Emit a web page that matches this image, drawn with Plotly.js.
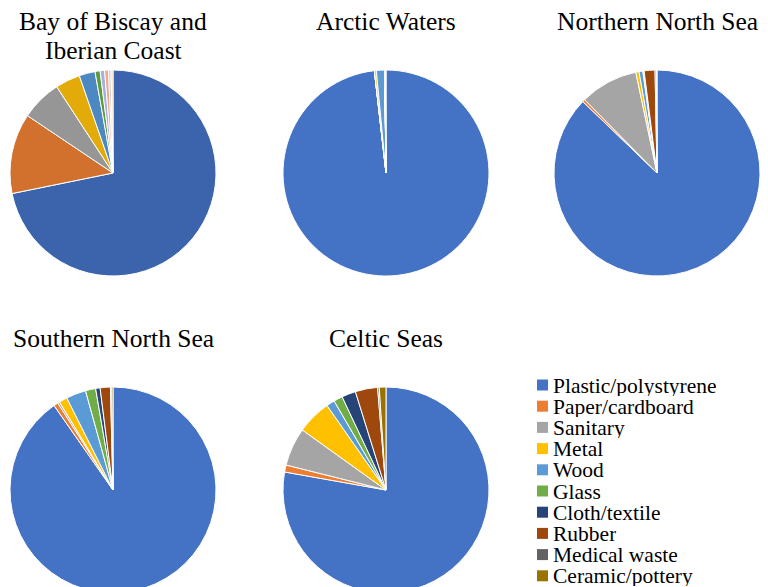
<!DOCTYPE html>
<html>
<head>
<meta charset="utf-8">
<script src="https://cdn.plot.ly/plotly-3.0.1.min.js"></script>
<style>
html, body { margin: 0; padding: 0; overflow: hidden; background: #ffffff; }
#chart { width: 768px; height: 600px; }
</style>
</head>
<body>
<div id="chart"></div>
<script>
// ---- Data ----
const categories = ['Plastic/polystyrene', 'Paper/cardboard', 'Sanitary', 'Metal', 'Wood',
  'Glass', 'Cloth/textile', 'Rubber', 'Medical waste', 'Ceramic/pottery'];
const regions = ['Bay of Biscay and<br>Iberian Coast', 'Arctic Waters', 'Northern North Sea',
  'Southern North Sea', 'Celtic Seas'];
const bayOfBiscay = [71.8, 12.6, 6.4, 3.9, 2.5, 0.8, 0.7, 0.6, 0.4, 0.3];
const arcticWaters = [98.2, 0, 0, 0.3, 1.3, 0, 0, 0, 0.1, 0.1];
const northernNorthSea = [87.2, 0.4, 9.1, 0.5, 0.6, 0.1, 0.1, 1.7, 0.2, 0.1];
const southernNorthSea = [90.3, 0.7, 0.3, 1.3, 3.1, 1.6, 0.7, 1.6, 0.2, 0.2];
const celticSeas = [77.8, 1.1, 6.0, 5.4, 1.3, 1.4, 2.2, 3.5, 0.25, 1.05];

// ---- Styles ----
const colors = ['#4472C4', '#ED7D31', '#A5A5A5', '#FFC000', '#5B9BD5',
  '#70AD47', '#264478', '#9E480E', '#636363', '#997300'];
const bayColors = ['#3B64AD', '#D2712E', '#969696', '#E3AB0A', '#4C89C2',
  '#5D9A40', '#A3B1DE', '#F3A78A', '#D0D0D0', '#F8CF9A'];
const serif = 'Liberation Serif';

const W = 768, H = 600;
const R = 103;
const centers = [[113, 173], [386, 173], [657, 173], [113, 490], [386, 490]];
const seriesList = [bayOfBiscay, arcticWaters, northernNorthSea, southernNorthSea, celticSeas];
const titleY = [21, 22, 22, 338, 338];
const titleLineGap = 30;

const px = x => x / W;
const py = y => 1 - y / H;

const traces = seriesList.map((vals, i) => {
  const [cx, cy] = centers[i];
  return {
    type: 'pie',
    labels: categories,
    values: vals,
    name: regions[i].replace('<br>', ' '),
    sort: false,
    direction: 'clockwise',
    rotation: 0,
    textinfo: 'none',
    showlegend: false,
    marker: { colors: i === 0 ? bayColors : colors, line: { color: '#ffffff', width: 1 } },
    domain: { x: [px(cx - R), px(cx + R)], y: [py(cy + R), py(cy - R)] }
  };
});

const annotations = [];
regions.forEach((t, i) => {
  t.split('<br>').forEach((line, k) => {
    annotations.push({
      text: line, xref: 'paper', yref: 'paper',
      x: px(centers[i][0]), y: py(titleY[i] + k * titleLineGap),
      xanchor: 'center', yanchor: 'middle', showarrow: false,
      font: { family: serif, size: 25.5, color: '#000000' }
    });
  });
});

// custom legend (text + colour squares)
const legTop = 385, legStep = 21.2;
const shapes = [];
categories.forEach((c, i) => {
  const yc = legTop + i * legStep;
  annotations.push({
    text: c, xref: 'paper', yref: 'paper',
    x: px(552), y: py(yc), xanchor: 'left', yanchor: 'middle', showarrow: false,
    height: 21, valign: 'middle', borderpad: 0,
    font: { family: serif, size: 21.5, color: '#000000' }
  });
  shapes.push({
    type: 'rect', xref: 'paper', yref: 'paper',
    x0: px(537), x1: px(548), y0: py(yc + 5.5), y1: py(yc - 5.5),
    fillcolor: colors[i], line: { width: 0 }
  });
});

const layout = {
  width: W, height: H,
  margin: { l: 0, r: 0, t: 0, b: 0 },
  paper_bgcolor: '#ffffff',
  font: { family: serif },
  showlegend: false,
  annotations: annotations,
  shapes: shapes
};

Plotly.newPlot('chart', traces, layout, { displayModeBar: false, staticPlot: true });
</script>
</body>
</html>
